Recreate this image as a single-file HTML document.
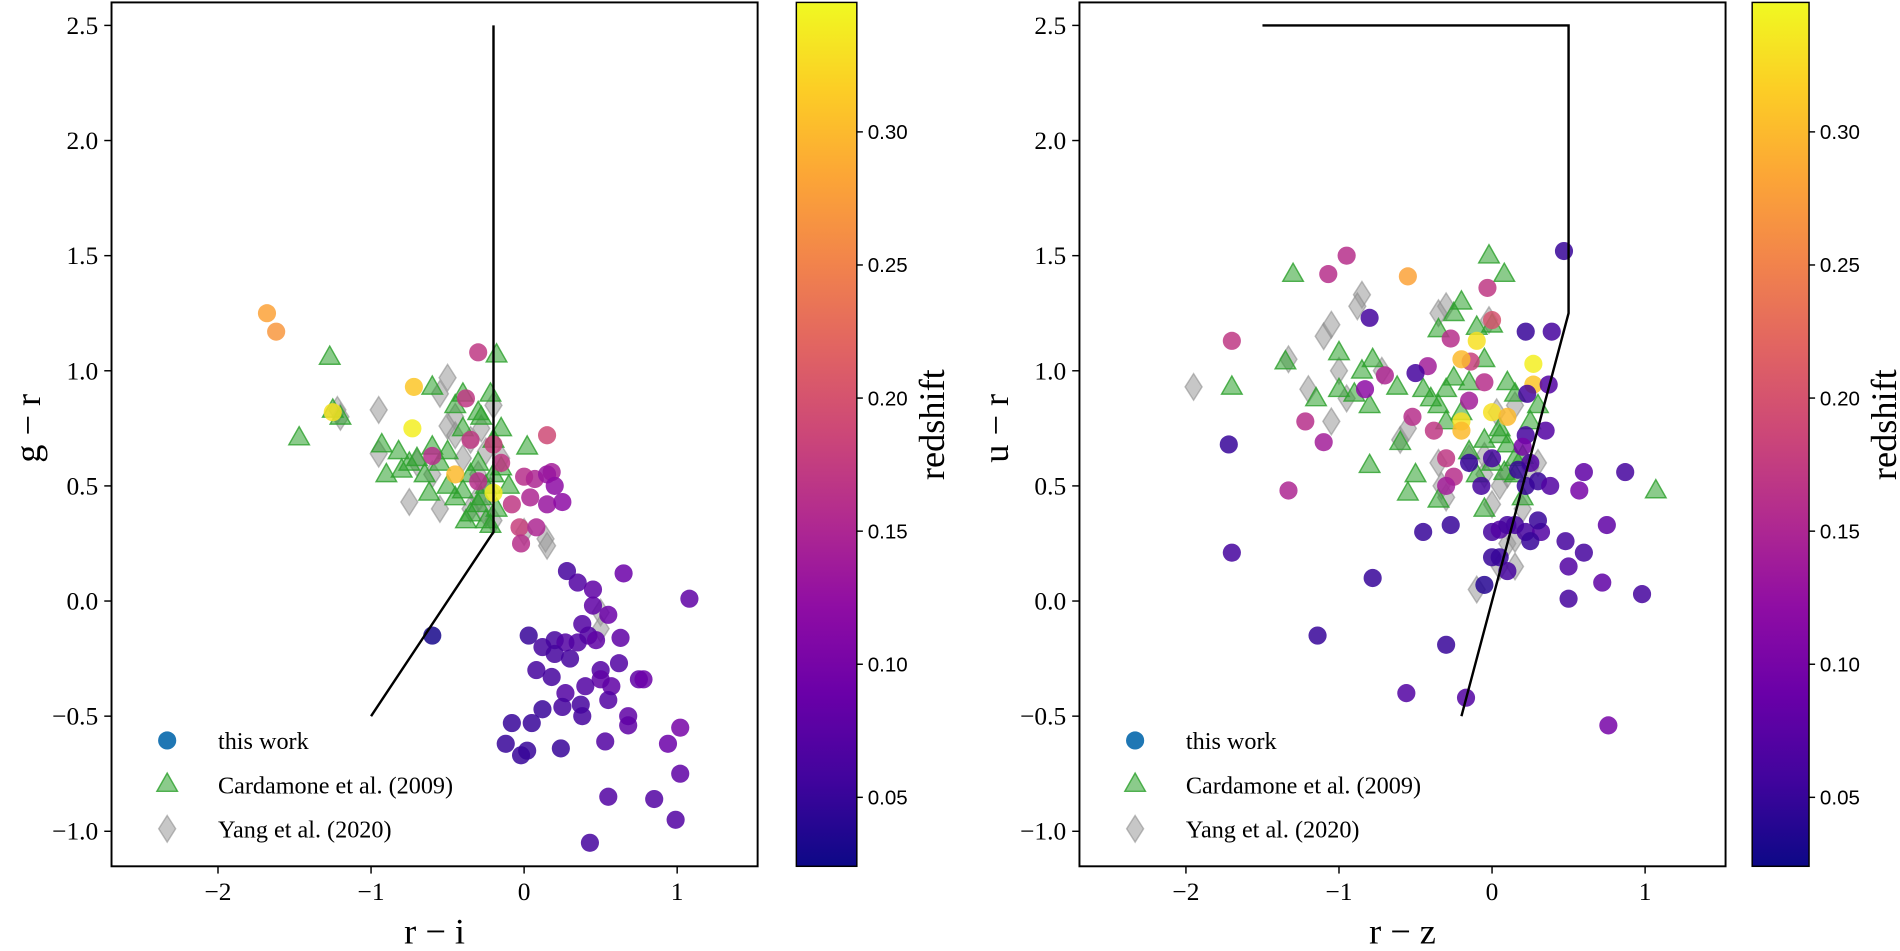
<!DOCTYPE html>
<html><head><meta charset="utf-8"><style>
html,body{margin:0;padding:0;background:#fff;}
svg{display:block;font-family:"Liberation Serif","DejaVu Serif",serif;}
</style></head><body>
<svg id="fig" width="1900" height="951" viewBox="0 0 1570 786" xmlns="http://www.w3.org/2000/svg">
<defs>
<linearGradient id="plasma" x1="0" y1="1" x2="0" y2="0">
<stop offset="0" stop-color="#0d0887"/><stop offset="0.1" stop-color="#41049d"/><stop offset="0.2" stop-color="#6a00a8"/><stop offset="0.3" stop-color="#8f0da4"/><stop offset="0.4" stop-color="#b12a90"/><stop offset="0.5" stop-color="#cc4778"/><stop offset="0.6" stop-color="#e16462"/><stop offset="0.7" stop-color="#f2844b"/><stop offset="0.8" stop-color="#fca636"/><stop offset="0.9" stop-color="#fcce25"/><stop offset="1" stop-color="#f0f921"/>
</linearGradient>
</defs>
</svg>
<script>
// ---- data ----
const xTicks=[-2,-1,0,1];
const yTicks=[-1.0,-0.5,0.0,0.5,1.0,1.5,2.0,2.5];
const zTicks=[0.05,0.10,0.15,0.20,0.25,0.30];
const leftSelX=[-1.0,-0.2,-0.2];
const leftSelY=[-0.5,0.3,2.5];
const rightSelX=[-0.2,0.5,0.5,-1.5];
const rightSelY=[-0.5,1.25,2.5,2.5];
const leftWorkX=[-1.68,-1.62,-1.25,-0.72,-0.73,-0.45,-0.2,-0.3,-0.38,-0.6,-0.35,-0.2,-0.15,-0.3,0.15,0.0,0.07,0.18,0.15,-0.08,0.04,0.15,0.25,0.2,-0.03,0.08,-0.02,-0.6,0.28,0.35,0.45,0.65,1.08,0.45,0.55,0.38,0.03,0.12,0.2,0.27,0.35,0.42,0.47,0.63,0.2,0.3,0.5,0.62,0.08,0.18,0.5,0.57,0.75,0.78,0.4,0.27,0.55,0.12,0.25,0.37,0.68,-0.08,0.05,0.38,0.68,1.02,-0.12,0.02,-0.02,0.24,0.53,0.94,1.02,0.55,0.85,0.99,0.43];
const leftWorkY=[1.25,1.17,0.82,0.93,0.75,0.55,0.47,1.08,0.88,0.63,0.7,0.68,0.6,0.52,0.72,0.54,0.53,0.56,0.55,0.42,0.45,0.42,0.43,0.5,0.32,0.32,0.25,-0.15,0.13,0.08,0.05,0.12,0.01,-0.02,-0.06,-0.1,-0.15,-0.2,-0.17,-0.18,-0.18,-0.15,-0.17,-0.16,-0.23,-0.25,-0.3,-0.27,-0.3,-0.33,-0.34,-0.37,-0.34,-0.34,-0.37,-0.4,-0.43,-0.47,-0.46,-0.45,-0.5,-0.53,-0.53,-0.5,-0.54,-0.55,-0.62,-0.65,-0.67,-0.64,-0.61,-0.62,-0.75,-0.85,-0.86,-0.95,-1.05];
const leftWorkZ=[0.28,0.27,0.33,0.31,0.34,0.30,0.34,0.17,0.17,0.16,0.17,0.18,0.17,0.16,0.19,0.16,0.15,0.14,0.13,0.17,0.15,0.13,0.12,0.12,0.18,0.15,0.16,0.03,0.06,0.07,0.08,0.09,0.08,0.08,0.09,0.07,0.05,0.06,0.06,0.07,0.07,0.07,0.08,0.08,0.06,0.06,0.07,0.07,0.06,0.06,0.08,0.08,0.08,0.09,0.07,0.07,0.07,0.05,0.06,0.06,0.08,0.05,0.05,0.06,0.08,0.10,0.05,0.05,0.05,0.05,0.07,0.09,0.08,0.07,0.07,0.07,0.06];
const leftCardX=[-1.27,-1.47,-1.25,-1.2,-0.93,-0.9,-0.82,-0.7,-0.6,-0.55,-0.5,-0.45,-0.4,-0.3,-0.22,-0.18,-0.2,-0.3,-0.35,-0.4,-0.45,-0.5,-0.35,-0.3,-0.25,-0.28,-0.2,-0.15,-0.18,-0.22,-0.38,-0.62,-0.65,-0.75,-0.8,0.02,-0.1,-0.15,-0.6,-0.28,-0.4,-0.25];
const leftCardY=[1.06,0.71,0.83,0.8,0.68,0.55,0.65,0.62,0.67,0.6,0.65,0.85,0.9,0.82,0.9,1.07,0.7,0.6,0.55,0.48,0.45,0.5,0.38,0.42,0.35,0.45,0.55,0.58,0.4,0.33,0.35,0.47,0.55,0.6,0.57,0.67,0.5,0.75,0.93,0.8,0.75,0.5];
const leftYangX=[-1.2,-1.22,-0.95,-0.7,-0.95,-0.75,-0.5,-0.55,-0.45,-0.35,-0.4,-0.3,-0.2,-0.25,-0.3,-0.35,-0.2,-0.25,0.14,0.15,-0.5,-0.45,-0.6,-0.22,0.0,0.5,0.5,-0.28,-0.15,-0.55];
const leftYangY=[0.8,0.83,0.83,0.6,0.64,0.43,0.97,0.9,0.8,0.7,0.62,0.55,0.85,0.65,0.45,0.4,0.35,0.38,0.27,0.24,0.76,0.72,0.55,0.48,0.3,-0.05,-0.12,0.75,0.62,0.4];
const rightWorkX=[0.47,-0.95,-1.07,-0.55,-0.03,-0.8,-1.7,-0.27,0.22,0.39,0.0,-0.14,-0.83,-0.7,-0.42,-0.5,-0.1,0.27,0.27,0.23,-0.2,0.37,-0.05,-0.15,-1.22,-1.1,-1.33,-0.52,-0.38,-0.3,-0.25,-0.3,-0.2,-0.2,0.0,0.1,0.35,0.0,-0.15,0.22,0.25,0.17,0.2,0.22,0.3,0.38,0.6,0.87,0.57,-1.72,-1.7,-0.78,-0.45,-0.27,-0.07,0.0,0.05,0.1,0.15,0.22,0.32,0.25,0.05,0.0,0.1,-0.05,0.3,0.48,0.6,0.5,0.75,0.72,0.5,0.98,-1.14,-0.3,-0.56,-0.17,0.76];
const rightWorkY=[1.52,1.5,1.42,1.41,1.36,1.23,1.13,1.14,1.17,1.17,1.22,1.04,0.92,0.98,1.02,0.99,1.13,1.03,0.94,0.9,1.05,0.94,0.95,0.87,0.78,0.69,0.48,0.8,0.74,0.62,0.54,0.5,0.78,0.74,0.82,0.8,0.74,0.62,0.6,0.72,0.6,0.57,0.67,0.5,0.52,0.5,0.56,0.56,0.48,0.68,0.21,0.1,0.3,0.33,0.5,0.3,0.31,0.33,0.33,0.3,0.3,0.26,0.19,0.19,0.13,0.07,0.35,0.26,0.21,0.15,0.33,0.08,0.01,0.03,-0.15,-0.19,-0.4,-0.42,-0.54];
const rightWorkZ=[0.05,0.16,0.16,0.28,0.17,0.06,0.17,0.16,0.05,0.06,0.20,0.18,0.12,0.15,0.14,0.06,0.33,0.34,0.31,0.06,0.30,0.07,0.16,0.14,0.16,0.14,0.15,0.16,0.17,0.17,0.16,0.14,0.33,0.30,0.33,0.30,0.07,0.06,0.05,0.06,0.07,0.05,0.10,0.05,0.05,0.07,0.08,0.06,0.10,0.05,0.06,0.05,0.05,0.05,0.06,0.06,0.07,0.06,0.06,0.06,0.07,0.05,0.05,0.05,0.06,0.04,0.05,0.06,0.06,0.07,0.08,0.08,0.06,0.06,0.05,0.05,0.07,0.07,0.10];
const rightCardX=[-1.3,-0.02,0.08,-0.2,-0.25,-0.35,-0.1,0.0,-1.35,-1.0,-0.85,-0.78,-1.0,-1.15,-0.9,-1.7,-0.8,-0.62,-0.45,-0.4,-0.35,-0.3,-0.25,-0.15,-0.05,0.1,0.15,-0.2,-0.3,-0.05,0.05,0.1,0.15,0.2,0.08,0.15,-0.1,-0.6,-0.8,-0.5,-0.55,-0.35,-0.05,0.2,0.3,1.07,0.0,0.25,0.05,-0.15];
const rightCardY=[1.42,1.5,1.42,1.3,1.25,1.18,1.19,1.2,1.04,1.08,1.0,1.05,0.92,0.88,0.9,0.93,0.85,0.93,0.92,0.88,0.85,0.92,0.97,0.95,1.05,0.95,0.9,0.82,0.78,0.7,0.72,0.68,0.62,0.63,0.56,0.55,0.55,0.69,0.59,0.55,0.47,0.44,0.4,0.45,0.85,0.48,0.6,0.78,0.75,0.65];
const rightYangX=[-1.95,-1.33,-1.1,-1.05,-0.85,-0.88,-0.3,-0.35,-0.02,-1.0,-1.2,-0.95,-1.05,-0.6,-0.55,-0.35,-0.3,-0.33,-0.15,-0.05,0.05,0.0,0.1,0.2,0.25,0.3,0.1,0.05,-0.1,0.15,0.15,0.03,-0.72,-0.05,0.15];
const rightYangY=[0.93,1.05,1.15,1.2,1.33,1.28,1.28,1.25,1.22,1.0,0.92,0.88,0.78,0.7,0.75,0.6,0.45,0.5,0.62,0.55,0.5,0.42,0.55,0.4,0.58,0.6,0.25,0.15,0.05,0.15,0.85,0.82,1.0,0.63,0.27];

// ---- drawing ----
const NS='http://www.w3.org/2000/svg';
const svg=document.getElementById('fig');
function mk(tag,attrs,parent){const e=document.createElementNS(NS,tag);for(const k in attrs)e.setAttribute(k,attrs[k]);(parent||svg).appendChild(e);return e;}
const yTop=2,yBot=716;
function yS(v){return 21+(2.5-v)*190.3;}
const ZMIN=0.05-57/2200, ZMAX=0.05+657/2200;
function cbY(z){return 659-(z-0.05)*2200;}
const stops=[[13,8,135],[65,4,157],[106,0,168],[143,13,164],[177,42,144],[204,71,120],[225,100,98],[242,132,75],[252,166,54],[252,206,37],[240,249,33]];
function plasma(z){let t=(z-ZMIN)/(ZMAX-ZMIN);t=Math.max(0,Math.min(1,t));const f=t*10;const i=Math.min(9,Math.floor(f));const u=f-i;const a=stops[i],b=stops[i+1];return 'rgb('+a.map((c,k)=>Math.round(c+(b[k]-c)*u)).join(',')+')';}

function panel(cfg){
  const xS=v=>cfg.x0+126.5*v;
  const g=mk('g',{});
  
  
  cfg.yx.forEach((v,i)=>{const cx=xS(v),cy=yS(cfg.yy[i]);
    const d=mk('polygon',{points:`${cx},${cy-11} ${cx+7},${cy} ${cx},${cy+11} ${cx-7},${cy}`,fill:'#999',stroke:'#888','stroke-width':1.2,'fill-opacity':0.55,'stroke-opacity':0.55},g);
    
    });
  cfg.cx.forEach((v,i)=>{const cx=xS(v),cy=yS(cfg.cy[i]);
    const t=mk('polygon',{points:`${cx},${cy-9} ${cx+8.5},${cy+6} ${cx-8.5},${cy+6}`,fill:'#2ca02c',stroke:'#2ca02c','stroke-width':1.2,'fill-opacity':0.55,'stroke-opacity':0.8},g);
    
    });
  cfg.wx.forEach((v,i)=>{
    const c=mk('circle',{cx:xS(v),cy:yS(cfg.wy[i]),r:7.5,fill:plasma(cfg.wz[i]),'fill-opacity':0.85},g);
    
    });
  const pts=cfg.lx.map((v,i)=>xS(v)+','+yS(cfg.ly[i])).join(' ');
  const ln=mk('polyline',{points:pts,fill:'none',stroke:'#000','stroke-width':2},g);
  
  
  const fr=mk('rect',{x:cfg.x0-341,y:yTop,width:534,height:yBot-yTop,fill:'none',stroke:'#000','stroke-width':1.6},g);
  
  
  xTicks.forEach(v=>{const x=xS(v);
    mk('line',{x1:x,y1:yBot,x2:x,y2:yBot+6,stroke:'#000','stroke-width':1.2},g);
    const t=mk('text',{x:x,y:yBot+28,'text-anchor':'middle','font-size':21},g);
    t.textContent=(v<0?'\u2212':'')+Math.abs(v);
    
    });
  yTicks.forEach(v=>{const y=yS(v);
    mk('line',{x1:cfg.x0-341,y1:y,x2:cfg.x0-347,y2:y,stroke:'#000','stroke-width':1.2},g);
    const t=mk('text',{x:cfg.x0-352,y:y+7,'text-anchor':'end','font-size':21},g);
    t.textContent=(v<0?'\u2212':'')+Math.abs(v).toFixed(1);
    
    });
  const xl=mk('text',{x:cfg.x0-74,y:780,'text-anchor':'middle','font-size':30},g);
  xl.textContent=cfg.xlabel;
  
  
  const yl=mk('text',{x:0,y:0,'text-anchor':'middle','font-size':30,transform:`translate(${cfg.x0-400},${yS(0.75)}) rotate(-90)`},g);
  yl.textContent=cfg.ylabel;
  
  
  const lx=cfg.x0-295;
  const l1=mk('circle',{cx:lx,cy:612,r:7.5,fill:'#1f77b4'},g);
  
  
  mk('polygon',{points:`${lx},${639} ${lx+8.5},${654} ${lx-8.5},${654}`,fill:'#2ca02c','fill-opacity':0.55,stroke:'#2ca02c','stroke-opacity':0.8,'stroke-width':1.2},g);
  mk('polygon',{points:`${lx},${674} ${lx+7},${685} ${lx},${696} ${lx-7},${685}`,fill:'#999','fill-opacity':0.55,stroke:'#888','stroke-opacity':0.55,'stroke-width':1.2},g);
  [['this work',612],['Cardamone et al. (2009)',649],['Yang et al. (2020)',685]].forEach(([s,y])=>{
    const t=mk('text',{x:lx+42,y:y+7,'font-size':20},g);t.textContent=s;
    
    });
  const cb=mk('rect',{x:cfg.cbx,y:yTop,width:cfg.cbw,height:yBot-yTop,fill:'url(#plasma)',stroke:'#000','stroke-width':1.2},g);
  
  
  zTicks.forEach(z=>{const y=cbY(z);
    mk('line',{x1:cfg.cbx+cfg.cbw,y1:y,x2:cfg.cbx+cfg.cbw+5,y2:y,stroke:'#000','stroke-width':1.2},g);
    const t=mk('text',{x:cfg.cbx+cfg.cbw+9,y:y+6,'font-size':17,'font-family':'Liberation Sans, sans-serif'},g);
    t.textContent=z.toFixed(2);
    
    });
  const cl=mk('text',{x:0,y:0,'text-anchor':'middle','font-size':30,transform:`translate(${cfg.cbx+cfg.cbw+72},${cbY(0.19)}) rotate(-90)`},g);
  cl.textContent='redshift';
  
  
}
panel({name:'left-panel-g-r-vs-r-i',x0:433,wx:leftWorkX,wy:leftWorkY,wz:leftWorkZ,cx:leftCardX,cy:leftCardY,yx:leftYangX,yy:leftYangY,lx:leftSelX,ly:leftSelY,xlabel:'r \u2212 i',ylabel:'g \u2212 r',cbx:658,cbw:50});
panel({name:'right-panel-u-r-vs-r-z',x0:1233,wx:rightWorkX,wy:rightWorkY,wz:rightWorkZ,cx:rightCardX,cy:rightCardY,yx:rightYangX,yy:rightYangY,lx:rightSelX,ly:rightSelY,xlabel:'r \u2212 z',ylabel:'u \u2212 r',cbx:1448,cbw:47});
</script>
</body></html>
